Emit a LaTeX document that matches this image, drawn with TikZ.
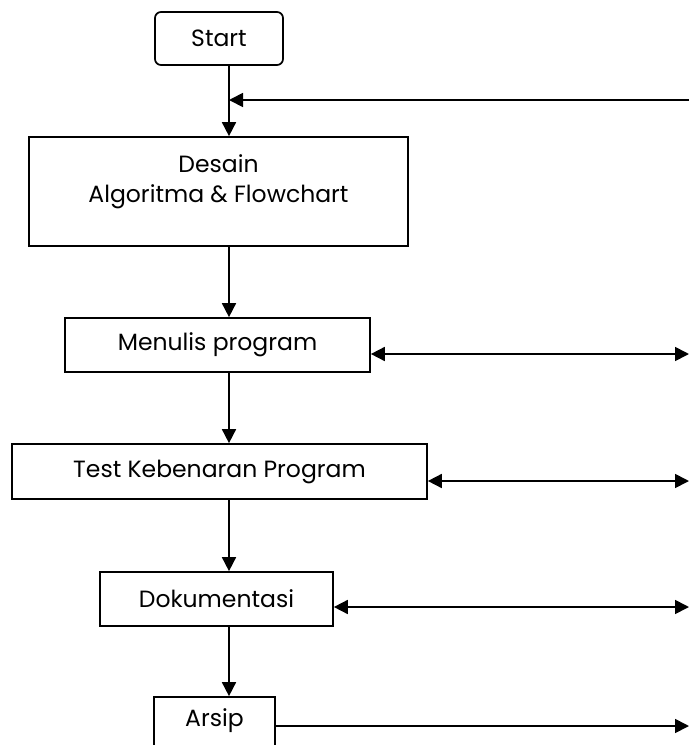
\documentclass[tikz,border=0pt]{standalone}
\usepackage{fontspec}
\setmainfont{Poppins}
\usetikzlibrary{arrows.meta}
\tikzset{
  txt/.style={font=\fontsize{23.5}{30}\selectfont},
  box/.style={draw, line width=1.7pt, inner sep=0pt, txt},
  tip/.style={Triangle[length=14pt,width=14pt]},
  flow/.style={line width=1.7pt, -{Triangle[length=14pt,width=14pt]}},
  both/.style={line width=1.7pt, {Triangle[length=14pt,width=14pt]}-{Triangle[length=14pt,width=14pt]}},
}
\begin{document}
\begin{tikzpicture}[x=1pt,y=-1pt]
\useasboundingbox (0,0) rectangle (689,745);
\clip (0,0) rectangle (689,745);
\coordinate (spine) at (229,0);
\node[box, rounded corners=6pt, minimum width=128pt, minimum height=53pt] (start) at (219,38.5) {Start};
\node[box, minimum width=379pt, minimum height=109pt] (desain) at (218.5,191.5) {};
\node[txt, align=center, inner sep=0pt] (desaintext) at (218.5,182) {Desain\\Algoritma \& Flowchart};
\node[box, minimum width=305pt, minimum height=54pt] (menulis) at (217.5,345) {Menulis program};
\node[box, minimum width=415pt, minimum height=55pt] (test) at (219.5,471.5) {Test Kebenaran Program};
\node[box, minimum width=233pt, minimum height=54pt] (dok) at (216.5,599) {Dokumentasi};
\node[box, minimum width=121pt, minimum height=60pt] (arsip) at (214.5,727) {};
\node[txt, inner sep=0pt] (arsiptext) at (214.5,721) {Arsip};
\coordinate (r0) at (689,100);
\coordinate (r1) at (689,354);
\coordinate (r2) at (689,481);
\coordinate (r3) at (689,607);
\coordinate (r4) at (689,726);
\draw[flow] (r0) -- (r0 -| spine);
\draw[flow] (start.south -| spine) -- (desain.north -| spine);
\draw[flow] (desain.south -| spine) -- (menulis.north -| spine);
\draw[flow] (menulis.south -| spine) -- (test.north -| spine);
\draw[flow] (test.south -| spine) -- (dok.north -| spine);
\draw[flow] (dok.south -| spine) -- (arsip.north -| spine);
\draw[both] (r1 -| menulis.east) -- (r1);
\draw[both] (r2 -| test.east) -- (r2);
\draw[both] (r3 -| dok.east) -- (r3);
\draw[flow] (r4 -| arsip.east) -- (r4);
\end{tikzpicture}
\end{document}
